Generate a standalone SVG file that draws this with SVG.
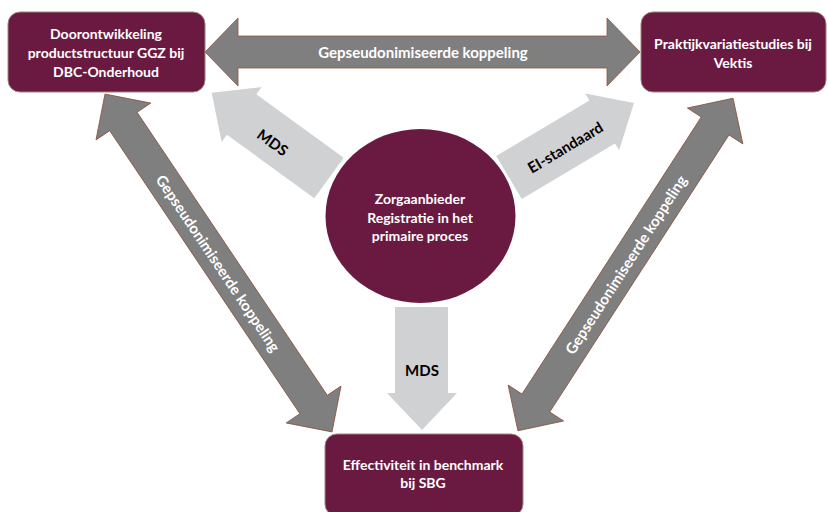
<svg xmlns="http://www.w3.org/2000/svg" width="828" height="512" viewBox="0 0 828 512">
  <style>
    .node { fill: #6a1a41; stroke: #a08478; stroke-width: 1; }
    .dark { fill: #7f7f7f; stroke: #8a5440; stroke-width: 0.8; }
    .light { fill: #d0d1d3; stroke: none; }
    .wt { font-family: Lato, "Liberation Sans", sans-serif; font-weight: bold; font-size: 14px; fill: #ffffff; text-anchor: middle; }
    .lbl { font-family: Lato, "Liberation Sans", sans-serif; font-weight: bold; font-size: 15px; fill: #ffffff; text-anchor: middle; dominant-baseline: central; }
    .blk { font-family: Lato, "Liberation Sans", sans-serif; font-weight: bold; font-size: 15px; fill: #000000; text-anchor: middle; dominant-baseline: central; }
  </style>
  <rect width="828" height="512" fill="#ffffff"/>
  <g id="connectors">
    <g id="link-top">
      <polygon class="dark" points="205,52 238,18 238,36 607,36 607,18 640,52 607,86 607,68 238,68 238,86"/>
      <text class="lbl" x="423" y="52">Gepseudonimiseerde koppeling</text>
    </g>
    <g id="link-left" transform="translate(218.5,263) rotate(56.1)">
      <polygon class="dark" points="-203.5,0 -170.5,-33 -170.5,-16.5 170.5,-16.5 170.5,-33 203.5,0 170.5,33 170.5,16.5 -170.5,16.5 -170.5,33"/>
      <text class="lbl" x="0" y="0">Gepseudonimiseerde koppeling</text>
    </g>
    <g id="link-right" transform="translate(625.5,264.5) rotate(-57.1)">
      <polygon class="dark" points="-198,0 -165,-33 -165,-16.5 165,-16.5 165,-33 198,0 165,33 165,16.5 -165,16.5 -165,33"/>
      <text class="lbl" x="0" y="0">Gepseudonimiseerde koppeling</text>
    </g>
    <g id="flow-mds-left" transform="translate(329,178) rotate(216)">
      <polygon class="light" points="0,-25 108,-25 108,-34 145,0 108,34 108,25 0,25"/>
    </g>
    <text class="blk" transform="translate(273,142) rotate(36)">MDS</text>
    <g id="flow-ei" transform="translate(509,177.5) rotate(-30.8)">
      <polygon class="light" points="0,-25 108.5,-25 108.5,-33 145.5,0 108.5,33 108.5,25 0,25"/>
    </g>
    <text class="blk" transform="translate(565,147) rotate(-30.8)">EI-standaard</text>
    <g id="flow-mds-bottom">
      <polygon class="light" points="395,307 448,307 448,393 457,393 422,430 387,393 395,393"/>
      <text class="blk" x="422" y="370">MDS</text>
    </g>
  </g>
  <g id="node-dbc">
    <rect class="node" x="8" y="12" width="197" height="80" rx="12"/>
    <text class="wt" x="106" y="39">Doorontwikkeling</text>
    <text class="wt" x="106" y="58">productstructuur GGZ bij</text>
    <text class="wt" x="106" y="77">DBC-Onderhoud</text>
  </g>
  <g id="node-vektis">
    <rect class="node" x="641" y="12" width="185" height="80" rx="12"/>
    <text class="wt" x="733" y="49">Praktijkvariatiestudies bij</text>
    <text class="wt" x="733" y="68">Vektis</text>
  </g>
  <g id="node-zorg">
    <ellipse cx="420.5" cy="216" rx="95" ry="87" fill="#6a1a41"/>
    <text class="wt" x="420" y="204">Zorgaanbieder</text>
    <text class="wt" x="420" y="223">Registratie in het</text>
    <text class="wt" x="420" y="241">primaire proces</text>
  </g>
  <g id="node-sbg">
    <rect class="node" x="325" y="434" width="198" height="82" rx="12"/>
    <text class="wt" x="423" y="470">Effectiviteit in benchmark</text>
    <text class="wt" x="423" y="488">bij SBG</text>
  </g>
</svg>
